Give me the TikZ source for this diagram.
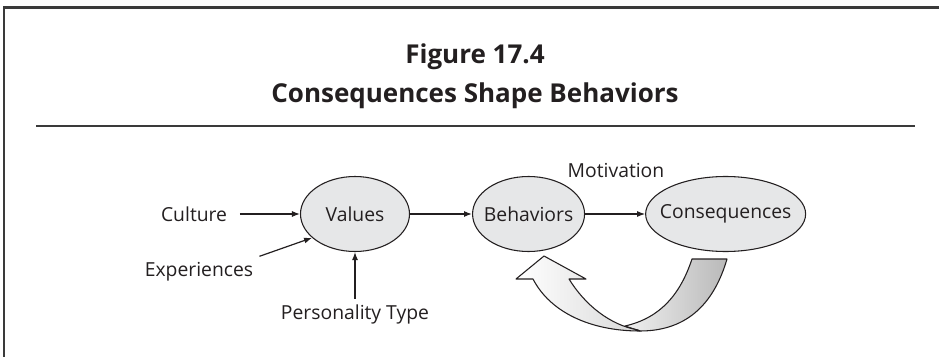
\documentclass[tikz,border=0pt]{standalone}
\usepackage{fontspec}
\setmainfont{Open Sans}
\usetikzlibrary{arrows.meta,positioning,shapes.geometric,calc}
\definecolor{ink}{HTML}{231F20}
\definecolor{bubble}{HTML}{E6E7E8}
\definecolor{rulegray}{HTML}{3A3A3A}

\begin{document}
\begin{tikzpicture}[
  x=0.75pt,y=-0.75pt,
  oval/.style={ellipse,draw=ink,line width=0.8pt,fill=bubble,inner sep=0pt,
               minimum height=56.25pt},
  lbl/.style={font=\fontsize{14.5}{16}\selectfont,text=ink,inner sep=4.5pt},
  heading/.style={font=\fontsize{19.5}{22}\selectfont\bfseries,text=ink,inner sep=0pt},
  arr/.style={-{Latex[length=6pt,width=4.5pt]},line width=0.9pt,draw=ink},
  band/.style={draw=ink,line width=0.8pt,line join=round}
]
\useasboundingbox (0,0) rectangle (939,357);
% frame, title and rule
\draw[rulegray,line width=1.6pt] (4,357) -- (4,7.5) -- (939,7.5);
\node[heading,anchor=base] (fig) at (475,63) {Figure 17.4};
\node[heading,anchor=base] (caption) at (475,102) {Consequences Shape Behaviors};
\draw[rulegray,line width=1pt] (36,126) -- (915,126);
% main chain
\node[oval,minimum width=81.75pt,label={[lbl]center:Values}] (values) at (355,214) {};
\node[oval,minimum width=84pt,right=46.5pt of values,label={[lbl]center:Behaviors}] (behav) {};
\node[oval,minimum width=120pt,right=45pt of behav,label={[lbl]center:Consequences}] (conseq) {};
% influences
\node[lbl,left=50pt of values] (culture) {Culture};
\node[lbl] (exper) at (199,272) {Experiences};
\node[lbl,below=35pt of values] (pers) {Personality Type};
\node[lbl] (motiv) at (616,170) {Motivation};
\draw[arr,shorten <=5pt] (culture) -- (values);
\draw[arr] (exper.north east) -- (values.209);
\draw[arr] (pers) -- (values);
\draw[arr] (values) -- (behav);
\draw[arr] (behav) -- (conseq);
% feedback band
\draw[band,left color=gray!12,right color=gray!55]
  (692,259) .. controls (680,295) and (660,318) .. (625,326) -- (640,331)
  .. controls (690,331) and (715,300) .. (727,259) -- cycle;
\draw[band,left color=white,right color=gray!30]
  (544,256) -- (586,279) -- (569,279) .. controls (585,305) and (610,325) .. (638,330)
  -- (640,331) .. controls (590,331) and (550,312) .. (533,279) -- (516,279) -- cycle;
\end{tikzpicture}
\end{document}
